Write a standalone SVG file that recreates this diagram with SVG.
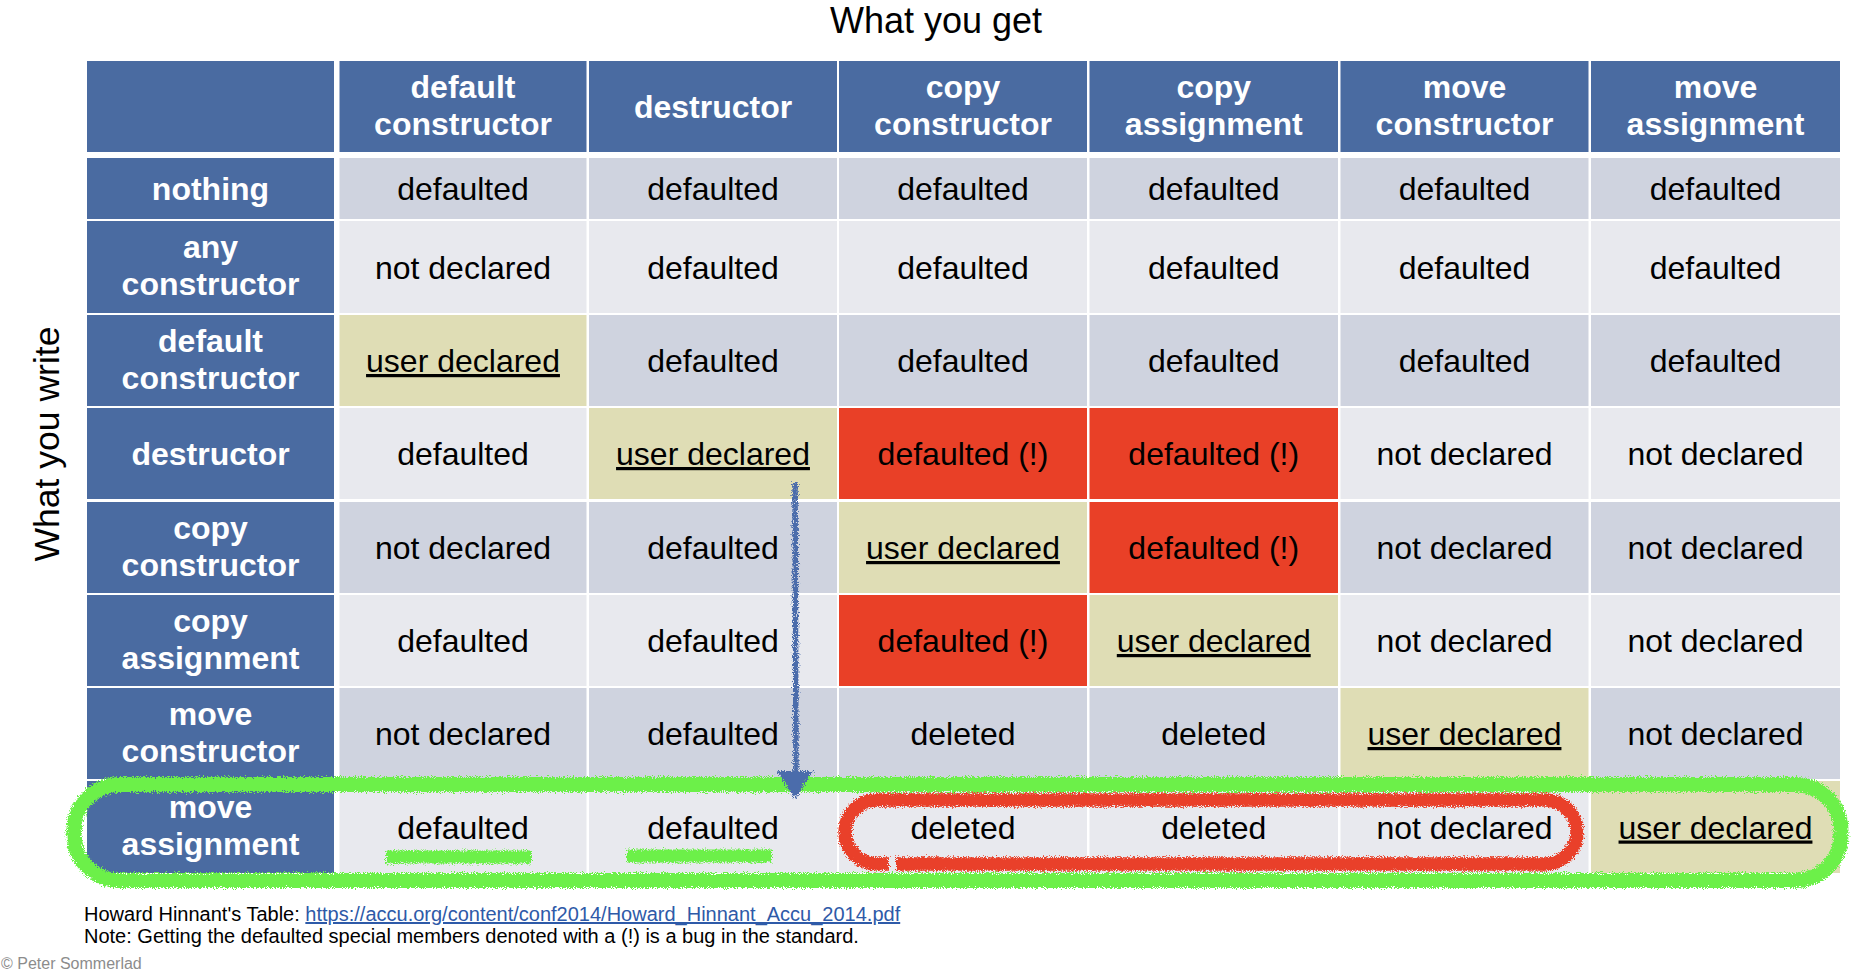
<svg xmlns="http://www.w3.org/2000/svg" width="1852" height="977" viewBox="0 0 1852 977">
<defs>
<style>
.hd{fill:#4a6ba1}
.dk{fill:#cfd3df}
.lt{fill:#e8e9ee}
.yl{fill:#dfddb5}
.rd{fill:#e94027}
.ht{font-family:"Liberation Sans",Arial,sans-serif;font-weight:bold;font-size:32px;fill:#ffffff;text-anchor:middle}
.ct{font-family:"Liberation Sans",Arial,sans-serif;font-size:32px;fill:#000000;text-anchor:middle}
.u{text-decoration:underline}
.ft{font-family:"Liberation Sans",Arial,sans-serif;font-size:20px;fill:#000000}
.chalk{fill:none;filter:url(#chalk)}
</style>
<filter id="chalk" filterUnits="userSpaceOnUse" x="0" y="0" width="1852" height="977">
<feTurbulence type="fractalNoise" baseFrequency="0.9" numOctaves="2" seed="4" result="n"/>
<feDisplacementMap in="SourceGraphic" in2="n" scale="8" xChannelSelector="R" yChannelSelector="G"/>
</filter>
</defs>
<rect x="0" y="0" width="1852" height="977" fill="#ffffff"/>
<text id="title" x="936" y="33" font-family="Liberation Sans, Arial, sans-serif" font-size="36" text-anchor="middle" fill="#000">What you get</text>
<text id="side" transform="translate(59,444) rotate(-90)" font-family="Liberation Sans, Arial, sans-serif" font-size="35.5" text-anchor="middle" fill="#000">What you write</text>

<!-- header row -->
<g id="h0"><rect class="hd" x="87" y="61" width="247" height="91"/></g>
<g id="h1"><rect class="hd" x="339.5" y="61" width="247" height="91"/><text class="ht" x="463" y="97.5">default</text><text class="ht" x="463" y="134.5">constructor</text></g>
<g id="h2"><rect class="hd" x="589" y="61" width="248" height="91"/><text class="ht" x="713" y="118">destructor</text></g>
<g id="h3"><rect class="hd" x="839" y="61" width="248" height="91"/><text class="ht" x="963" y="97.5">copy</text><text class="ht" x="963" y="134.5">constructor</text></g>
<g id="h4"><rect class="hd" x="1089.5" y="61" width="248.5" height="91"/><text class="ht" x="1213.75" y="97.5">copy</text><text class="ht" x="1213.75" y="134.5">assignment</text></g>
<g id="h5"><rect class="hd" x="1340.5" y="61" width="248" height="91"/><text class="ht" x="1464.5" y="97.5">move</text><text class="ht" x="1464.5" y="134.5">constructor</text></g>
<g id="h6"><rect class="hd" x="1591" y="61" width="249" height="91"/><text class="ht" x="1715.5" y="97.5">move</text><text class="ht" x="1715.5" y="134.5">assignment</text></g>

<!-- row 1: nothing -->
<g id="r1h"><rect class="hd" x="87" y="158" width="247" height="61"/><text class="ht" x="210.5" y="200">nothing</text></g>
<g id="r1c1"><rect class="dk" x="339.5" y="158" width="247" height="61"/><text class="ct" x="463" y="200">defaulted</text></g>
<g id="r1c2"><rect class="dk" x="589" y="158" width="248" height="61"/><text class="ct" x="713" y="200">defaulted</text></g>
<g id="r1c3"><rect class="dk" x="839" y="158" width="248" height="61"/><text class="ct" x="963" y="200">defaulted</text></g>
<g id="r1c4"><rect class="dk" x="1089.5" y="158" width="248.5" height="61"/><text class="ct" x="1213.75" y="200">defaulted</text></g>
<g id="r1c5"><rect class="dk" x="1340.5" y="158" width="248" height="61"/><text class="ct" x="1464.5" y="200">defaulted</text></g>
<g id="r1c6"><rect class="dk" x="1591" y="158" width="249" height="61"/><text class="ct" x="1715.5" y="200">defaulted</text></g>

<!-- row 2: any constructor -->
<g id="r2h"><rect class="hd" x="87" y="221" width="247" height="92"/><text class="ht" x="210.5" y="258">any</text><text class="ht" x="210.5" y="295">constructor</text></g>
<g id="r2c1"><rect class="lt" x="339.5" y="221" width="247" height="92"/><text class="ct" x="463" y="278.5">not declared</text></g>
<g id="r2c2"><rect class="lt" x="589" y="221" width="248" height="92"/><text class="ct" x="713" y="278.5">defaulted</text></g>
<g id="r2c3"><rect class="lt" x="839" y="221" width="248" height="92"/><text class="ct" x="963" y="278.5">defaulted</text></g>
<g id="r2c4"><rect class="lt" x="1089.5" y="221" width="248.5" height="92"/><text class="ct" x="1213.75" y="278.5">defaulted</text></g>
<g id="r2c5"><rect class="lt" x="1340.5" y="221" width="248" height="92"/><text class="ct" x="1464.5" y="278.5">defaulted</text></g>
<g id="r2c6"><rect class="lt" x="1591" y="221" width="249" height="92"/><text class="ct" x="1715.5" y="278.5">defaulted</text></g>

<!-- row 3: default constructor -->
<g id="r3h"><rect class="hd" x="87" y="315" width="247" height="91"/><text class="ht" x="210.5" y="351.5">default</text><text class="ht" x="210.5" y="388.5">constructor</text></g>
<g id="r3c1"><rect class="yl" x="339.5" y="315" width="247" height="91"/><text class="ct u" x="463" y="372">user declared</text></g>
<g id="r3c2"><rect class="dk" x="589" y="315" width="248" height="91"/><text class="ct" x="713" y="372">defaulted</text></g>
<g id="r3c3"><rect class="dk" x="839" y="315" width="248" height="91"/><text class="ct" x="963" y="372">defaulted</text></g>
<g id="r3c4"><rect class="dk" x="1089.5" y="315" width="248.5" height="91"/><text class="ct" x="1213.75" y="372">defaulted</text></g>
<g id="r3c5"><rect class="dk" x="1340.5" y="315" width="248" height="91"/><text class="ct" x="1464.5" y="372">defaulted</text></g>
<g id="r3c6"><rect class="dk" x="1591" y="315" width="249" height="91"/><text class="ct" x="1715.5" y="372">defaulted</text></g>

<!-- row 4: destructor -->
<g id="r4h"><rect class="hd" x="87" y="408" width="247" height="91"/><text class="ht" x="210.5" y="465">destructor</text></g>
<g id="r4c1"><rect class="lt" x="339.5" y="408" width="247" height="91"/><text class="ct" x="463" y="465">defaulted</text></g>
<g id="r4c2"><rect class="yl" x="589" y="408" width="248" height="91"/><text class="ct u" x="713" y="465">user declared</text></g>
<g id="r4c3"><rect class="rd" x="839" y="408" width="248" height="91"/><text class="ct" x="963" y="465">defaulted (!)</text></g>
<g id="r4c4"><rect class="rd" x="1089.5" y="408" width="248.5" height="91"/><text class="ct" x="1213.75" y="465">defaulted (!)</text></g>
<g id="r4c5"><rect class="lt" x="1340.5" y="408" width="248" height="91"/><text class="ct" x="1464.5" y="465">not declared</text></g>
<g id="r4c6"><rect class="lt" x="1591" y="408" width="249" height="91"/><text class="ct" x="1715.5" y="465">not declared</text></g>

<!-- row 5: copy constructor -->
<g id="r5h"><rect class="hd" x="87" y="502" width="247" height="91"/><text class="ht" x="210.5" y="538.5">copy</text><text class="ht" x="210.5" y="575.5">constructor</text></g>
<g id="r5c1"><rect class="dk" x="339.5" y="502" width="247" height="91"/><text class="ct" x="463" y="559">not declared</text></g>
<g id="r5c2"><rect class="dk" x="589" y="502" width="248" height="91"/><text class="ct" x="713" y="559">defaulted</text></g>
<g id="r5c3"><rect class="yl" x="839" y="502" width="248" height="91"/><text class="ct u" x="963" y="559">user declared</text></g>
<g id="r5c4"><rect class="rd" x="1089.5" y="502" width="248.5" height="91"/><text class="ct" x="1213.75" y="559">defaulted (!)</text></g>
<g id="r5c5"><rect class="dk" x="1340.5" y="502" width="248" height="91"/><text class="ct" x="1464.5" y="559">not declared</text></g>
<g id="r5c6"><rect class="dk" x="1591" y="502" width="249" height="91"/><text class="ct" x="1715.5" y="559">not declared</text></g>

<!-- row 6: copy assignment -->
<g id="r6h"><rect class="hd" x="87" y="595" width="247" height="91"/><text class="ht" x="210.5" y="631.5">copy</text><text class="ht" x="210.5" y="668.5">assignment</text></g>
<g id="r6c1"><rect class="lt" x="339.5" y="595" width="247" height="91"/><text class="ct" x="463" y="652">defaulted</text></g>
<g id="r6c2"><rect class="lt" x="589" y="595" width="248" height="91"/><text class="ct" x="713" y="652">defaulted</text></g>
<g id="r6c3"><rect class="rd" x="839" y="595" width="248" height="91"/><text class="ct" x="963" y="652">defaulted (!)</text></g>
<g id="r6c4"><rect class="yl" x="1089.5" y="595" width="248.5" height="91"/><text class="ct u" x="1213.75" y="652">user declared</text></g>
<g id="r6c5"><rect class="lt" x="1340.5" y="595" width="248" height="91"/><text class="ct" x="1464.5" y="652">not declared</text></g>
<g id="r6c6"><rect class="lt" x="1591" y="595" width="249" height="91"/><text class="ct" x="1715.5" y="652">not declared</text></g>

<!-- row 7: move constructor -->
<g id="r7h"><rect class="hd" x="87" y="688" width="247" height="91"/><text class="ht" x="210.5" y="724.5">move</text><text class="ht" x="210.5" y="761.5">constructor</text></g>
<g id="r7c1"><rect class="dk" x="339.5" y="688" width="247" height="91"/><text class="ct" x="463" y="745">not declared</text></g>
<g id="r7c2"><rect class="dk" x="589" y="688" width="248" height="91"/><text class="ct" x="713" y="745">defaulted</text></g>
<g id="r7c3"><rect class="dk" x="839" y="688" width="248" height="91"/><text class="ct" x="963" y="745">deleted</text></g>
<g id="r7c4"><rect class="dk" x="1089.5" y="688" width="248.5" height="91"/><text class="ct" x="1213.75" y="745">deleted</text></g>
<g id="r7c5"><rect class="yl" x="1340.5" y="688" width="248" height="91"/><text class="ct u" x="1464.5" y="745">user declared</text></g>
<g id="r7c6"><rect class="dk" x="1591" y="688" width="249" height="91"/><text class="ct" x="1715.5" y="745">not declared</text></g>

<!-- row 8: move assignment -->
<g id="r8h"><rect class="hd" x="87" y="781" width="247" height="92"/><text class="ht" x="210.5" y="818">move</text><text class="ht" x="210.5" y="855">assignment</text></g>
<g id="r8c1"><rect class="lt" x="339.5" y="781" width="247" height="92"/><text class="ct" x="463" y="838.5">defaulted</text></g>
<g id="r8c2"><rect class="lt" x="589" y="781" width="248" height="92"/><text class="ct" x="713" y="838.5">defaulted</text></g>
<g id="r8c3"><rect class="lt" x="839" y="781" width="248" height="92"/><text class="ct" x="963" y="838.5">deleted</text></g>
<g id="r8c4"><rect class="lt" x="1089.5" y="781" width="248.5" height="92"/><text class="ct" x="1213.75" y="838.5">deleted</text></g>
<g id="r8c5"><rect class="lt" x="1340.5" y="781" width="248" height="92"/><text class="ct" x="1464.5" y="838.5">not declared</text></g>
<g id="r8c6"><rect class="yl" x="1591" y="781" width="249" height="92"/><text class="ct u" x="1715.5" y="838.5">user declared</text></g>

<!-- hand-drawn highlights -->
<g id="highlights">
<rect class="chalk" x="74" y="784.5" width="1767" height="96" rx="46" ry="46" stroke="#6cf04a" stroke-width="15"/>
<path class="chalk" d="M386 857 H531" stroke="#6cf04a" stroke-width="13"/>
<path class="chalk" d="M627 856 H772" stroke="#6cf04a" stroke-width="13"/>
<path class="chalk" d="M896 864 H1545 A32 32 0 0 0 1545 800 H877 A32 32 0 0 0 877 864 H889" stroke="#e9402a" stroke-width="13.5"/>
</g>

<g id="connectors">
<path class="chalk" d="M795 482 L795.5 620 L796 774" stroke="#4b6cab" stroke-width="5.5"/>
<polygon points="777,771 813,771 795,799" fill="#4b6cab" filter="url(#chalk)"/>
</g>

<g id="footer">
<text class="ft" x="84" y="921">Howard Hinnant's Table: <tspan fill="#2e5aa8" text-decoration="underline">https://accu.org/content/conf2014/Howard_Hinnant_Accu_2014.pdf</tspan></text>
<text class="ft" x="84" y="943">Note: Getting the defaulted special members denoted with a (!) is a bug in the standard.</text>
<text x="1" y="969" font-family="Liberation Sans, Arial, sans-serif" font-size="16" fill="#8c8c8c">© Peter Sommerlad</text>
</g>
</svg>
